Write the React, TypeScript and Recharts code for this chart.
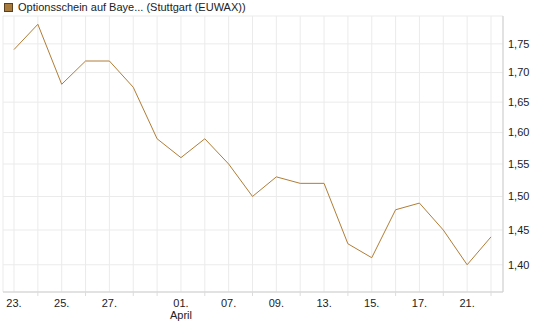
import { LineChart, Line, XAxis, YAxis, CartesianGrid } from 'recharts'

// Handelstage (Stuttgart / EUWAX), Schlusskurse in EUR
const dates = [
  '23.03', '24.03', '25.03', '26.03', '27.03', '30.03', '31.03', '01.04', '02.04', '07.04', '08.04',
  '09.04', '10.04', '13.04', '14.04', '15.04', '16.04', '17.04', '20.04', '21.04', '22.04',
]
const prices = [
  1.74, 1.785, 1.68, 1.72, 1.72, 1.675, 1.59, 1.56, 1.59, 1.55, 1.5,
  1.53, 1.52, 1.52, 1.43, 1.41, 1.48, 1.49, 1.45, 1.4, 1.44,
]
const labeledDates = ['23.03', '25.03', '27.03', '01.04', '07.04', '09.04', '13.04', '15.04', '17.04', '21.04']
const monthLabels: Record<string, string> = { '01.04': 'April' }
const yTicks = [1.4, 1.45, 1.5, 1.55, 1.6, 1.65, 1.7, 1.75]

const title = 'Optionsschein auf Baye... (Stuttgart (EUWAX))'
const lineColor = '#b07d36'
const font = '"Liberation Sans", Arial, sans-serif'

const rows = dates.map((d, i) => ({ date: d, price: prices[i] }))

function DateTick(props: any) {
  const { x, y, payload } = props
  const v: string = payload.value
  if (!labeledDates.includes(v)) {
    return <line x1={x} x2={x} y1={y} y2={y + 4} stroke="#dcdcdc" />
  }
  const month = monthLabels[v]
  return (
    <g>
      <text x={x} y={y + 15} textAnchor="middle" fontSize={11} fill="#222" fontFamily={font}>
        {v.slice(0, 2) + '.'}
      </text>
      {month && (
        <text x={x} y={y + 27} textAnchor="middle" fontSize={11} fill="#222" fontFamily={font}>
          {month}
        </text>
      )}
    </g>
  )
}

export default function App() {
  return (
    <div style={{ position: 'absolute', left: 0, top: 0, width: 545, height: 327, background: '#fff', fontFamily: font }}>
      <div style={{ position: 'absolute', left: 4, top: 1, fontSize: 11, color: '#222', display: 'flex', alignItems: 'center', whiteSpace: 'nowrap' }}>
        <span style={{ display: 'inline-block', width: 7, height: 7, background: '#a87a3c', border: '1px solid #5a4020', marginRight: 5 }} />
        {title}
      </div>
      <LineChart width={545} height={327} data={rows} margin={{ top: 16, right: 0, left: 3, bottom: 0 }}>
        <CartesianGrid stroke="#ebebeb" />
        <XAxis
          dataKey="date"
          interval={0}
          height={35}
          padding={{ left: 11, right: 12 }}
          axisLine={{ stroke: '#cfcfcf' }}
          tickLine={false}
          tickSize={0}
          tickMargin={0}
          tick={<DateTick />}
        />
        <XAxis xAxisId="top" orientation="top" dataKey="date" height={0} tick={false} axisLine={{ stroke: '#cfcfcf' }} tickLine={false} />
        <YAxis
          orientation="right"
          scale="log"
          domain={[1.362, 1.8]}
          allowDataOverflow
          ticks={yTicks}
          width={42}
          axisLine={{ stroke: '#cfcfcf' }}
          tickLine={false}
          tickSize={0}
          tickMargin={5}
          tick={{ fontSize: 11, fill: '#222', fontFamily: font }}
          tickFormatter={(v: number) => v.toFixed(2).replace('.', ',')}
        />
        <YAxis yAxisId="left" orientation="left" width={0} tick={false} axisLine={{ stroke: '#cfcfcf' }} tickLine={false} />
        <Line
          type="linear"
          dataKey="price"
          stroke={lineColor}
          strokeWidth={1}
          dot={false}
          isAnimationActive={false}
        />
      </LineChart>
    </div>
  )
}
